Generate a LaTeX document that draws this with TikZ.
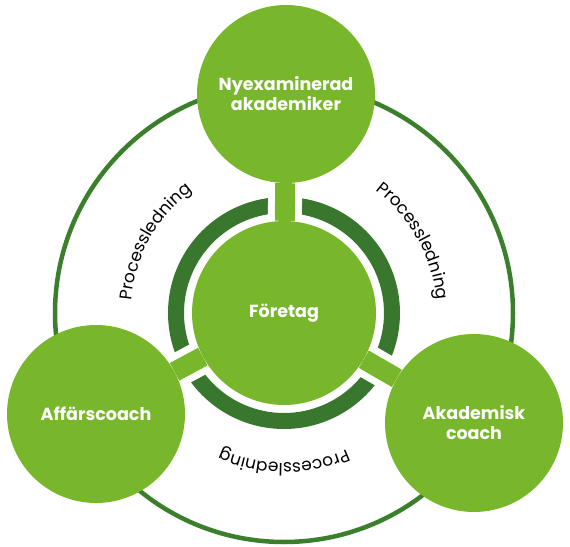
\documentclass[tikz,border=0pt]{standalone}
\usepackage{fontspec}
\setmainfont{Poppins}
\usetikzlibrary{decorations.text}
\definecolor{lightgreen}{RGB}{120,183,43}
\definecolor{darkgreen}{RGB}{57,119,47}
\definecolor{ringgreen}{RGB}{59,127,44}
\pgfdeclarelayer{bg}
\pgfsetlayers{bg,main}
\tikzset{
    hubnode/.style={circle, fill=lightgreen, minimum size=184pt, inner sep=0pt, text=white, font=\fontsize{17.5}{20}\selectfont\bfseries, align=center},
    spokenode/.style={circle, fill=lightgreen, minimum size=178pt, inner sep=0pt, text=white, font=\fontsize{17.5}{20}\selectfont\bfseries, align=center},
    connector/.style={draw=white, line width=7pt, double=lightgreen, double distance=20pt},
    innerring/.style={draw=darkgreen, line width=16pt},
    outerring/.style={draw=ringgreen, line width=4.5pt},
    proclabel/.style={decorate, decoration={text along path, text align=center, text={|\fontsize{17}{17}\selectfont|Processledning}}}
}

\begin{document}
\begin{tikzpicture}[x=1pt, y=1pt]
        \useasboundingbox (-284,-233) rectangle (286,313);

        % ------------------
        % nodes
        % ------------------

        \node[hubnode] (foretag) at (0,0) {Företag};
        \node[spokenode] (nyexam) at (2,219) {Nyexaminerad\\akademiker};
        \node[spokenode] (affars) at (-188,-101) {Affärscoach};
        \node[spokenode] (akadem) at (190,-110) {Akademisk\\coach};

        % ------------------
        % rings and connectors
        % ------------------

        \begin{pgfonlayer}{bg}
            \draw[outerring] (foretag.center) circle[radius=229];
            \draw[innerring] (foretag.center) circle[radius=108];
            \draw[connector] (foretag) -- (nyexam);
            \draw[connector] (foretag) -- (affars);
            \draw[connector] (foretag) -- (akadem);
        \end{pgfonlayer}

        % ------------------
        % labels
        % ------------------

        \path[proclabel] (191:153) arc[start angle=191, end angle=111, radius=153];
        \path[proclabel] (69:153) arc[start angle=69, end angle=-11, radius=153];
        \path[proclabel] (310:150) arc[start angle=310, end angle=230, radius=150];

    \end{tikzpicture}
\end{document}
